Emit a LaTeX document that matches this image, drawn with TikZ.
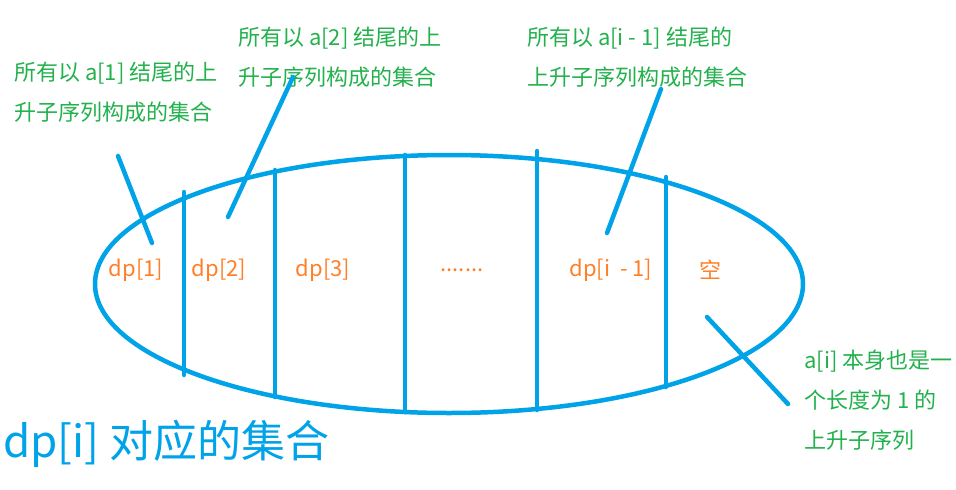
\documentclass[tikz,border=0pt]{standalone}
\usepackage{fontspec}
\setmainfont{Noto Sans CJK SC}
\usetikzlibrary{positioning}
\definecolor{paintblue}{HTML}{00A2E8}
\definecolor{paintgreen}{HTML}{22B14C}
\definecolor{paintorange}{HTML}{FF7F27}

\begin{document}
\begin{tikzpicture}[x=1pt,y=-1pt,
  stroke/.style={paintblue, line width=4.5pt, line cap=round},
  note/.style={paintgreen, font=\fontsize{22}{40}\selectfont, align=left, anchor=north west, inner sep=0pt},
  part/.style={paintorange, font=\fontsize{22}{26}\selectfont, inner sep=0pt}]
\useasboundingbox (0,0) rectangle (956,490);

% the set dp[i]
\draw[stroke] (449,284) ellipse (354pt and 129pt);
\foreach \x/\a/\b in {184/192/375, 275/170/397, 405/155/412, 537/151/410, 666/177/387}
  \draw[stroke] (\x,\a) -- (\x,\b);

\node[part] (dpA) at (136,270) {dp[1]};
\node[part] (dpB) at (219,270) {dp[2]};
\node[part] (dpC) at (323,270) {dp[3]};
\node[part] (dots) at (462,270) {.......};
\node[part] (dpK) at (611,270) {dp[i\ \ - 1]};
\node[part] (empty) at (710,270) {空};

% notes
\node[note] (noteA) at (14,62) {所有以 a[1] 结尾的上\\升子序列构成的集合};
\node[note] (noteB) at (238,27) {所有以 a[2] 结尾的上\\升子序列构成的集合};
\node[note] (noteK) at (527,27) {所有以 a[i - 1] 结尾的\\上升子序列构成的集合};
\node[note] (noteI) at (804,350) {a[i] 本身也是一\\个长度为 1 的\\上升子序列};

\coordinate (tailA) at (118,156);  \coordinate (headA) at (152,243);
\coordinate (tailB) at (293,77);   \coordinate (headB) at (228,217);
\coordinate (tailK) at (661,89);   \coordinate (headK) at (607,233);
\coordinate (tailI) at (788,404);  \coordinate (headI) at (707,317);
\draw[stroke] (tailA) -- (headA);
\draw[stroke] (tailB) -- (headB);
\draw[stroke] (tailK) -- (headK);
\draw[stroke] (tailI) -- (headI);

\node[paintblue, font=\fontsize{44}{50}\selectfont, anchor=west, inner sep=0pt] (title) at (3,444) {dp[i] 对应的集合};

\end{tikzpicture}
\end{document}
